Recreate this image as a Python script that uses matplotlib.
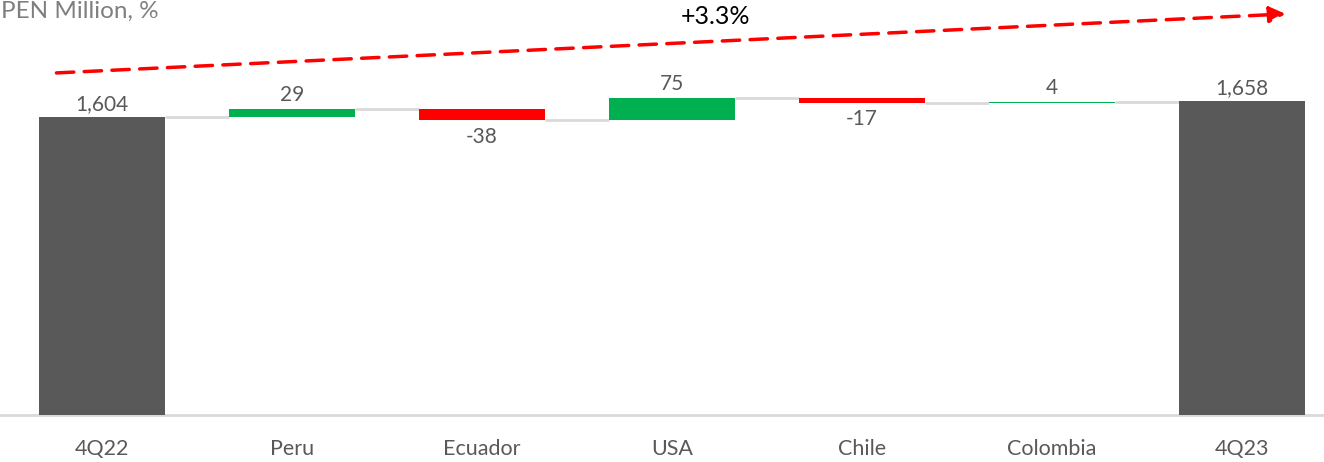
import matplotlib.pyplot as plt
import numpy as np

plt.rcParams['font.family'] = ['Lato', 'DejaVu Sans']

# data
categories = ['4Q22', 'Peru', 'Ecuador', 'USA', 'Chile', 'Colombia', '4Q23']
start_total = 1604
deltas = [29, -38, 75, -17, 4]
end_total = 1658
growth_label = '+3.3%'

GREY = '#595959'
GREEN = '#00b050'
RED = '#ff0000'
LINE = '#d9d9d9'

fig = plt.figure(figsize=(13.24, 4.62), dpi=100)
ax = fig.add_axes([0, 1 - 415 / 462, 1, 415 / 462])

x = np.arange(len(categories))
width = 0.665

# waterfall positions
levels = [start_total]
for d in deltas:
    levels.append(levels[-1] + d)

ax.bar(x[0], start_total, width, color=GREY, zorder=3)
ax.bar(x[-1], end_total, width, color=GREY, zorder=3)
for i, d in enumerate(deltas):
    base = levels[i] if d >= 0 else levels[i] + d
    ax.bar(x[i + 1], abs(d), width, bottom=base,
           color=GREEN if d >= 0 else RED, zorder=3)

# connectors
conn = [start_total] + levels[1:]
for i in range(len(categories) - 1):
    ax.plot([x[i] + width / 2, x[i + 1] - width / 2], [conn[i], conn[i]],
            color=LINE, lw=2, zorder=2, solid_capstyle='butt')

# value labels
lab_kw = dict(ha='center', fontsize=15, color=GREY)
ax.text(x[0], start_total + 12, f'{start_total:,}', va='bottom', **lab_kw)
ax.text(x[-1], end_total + 12, f'{end_total:,}', va='bottom', **lab_kw)
for i, d in enumerate(deltas):
    if d >= 0:
        ax.text(x[i + 1], levels[i + 1] + 12, f'{d}', va='bottom', **lab_kw)
    else:
        ax.text(x[i + 1], levels[i + 1] - 22, f'{d}', va='top', **lab_kw)

# growth arrow
ax.annotate('', xy=(6.23, end_total + 295), xytext=(-0.24, start_total + 150),
            arrowprops=dict(arrowstyle='-|>', color=RED, lw=2.5, ls=(0, (5, 3)),
                            mutation_scale=24, shrinkA=0, shrinkB=0))
ax.text(3.23, 1905, growth_label, ha='center', va='bottom', fontsize=18, color='black')

ax.set_xlim(-0.537, 6.432)
ax.set_ylim(600, 2000)
for s in ['top', 'right', 'left']:
    ax.spines[s].set_visible(False)
ax.spines['bottom'].set_color(LINE)
ax.spines['bottom'].set_linewidth(2)
ax.set_yticks([])
ax.set_xticks(x)
ax.set_xticklabels(categories, fontsize=15.5, color=GREY)
ax.tick_params(axis='x', length=0, pad=17)

fig.text(0.001, 0.999, 'PEN Million, %', ha='left', va='top', fontsize=17.5, color='#7f7f7f')

fig.savefig('out.png', dpi=100)
